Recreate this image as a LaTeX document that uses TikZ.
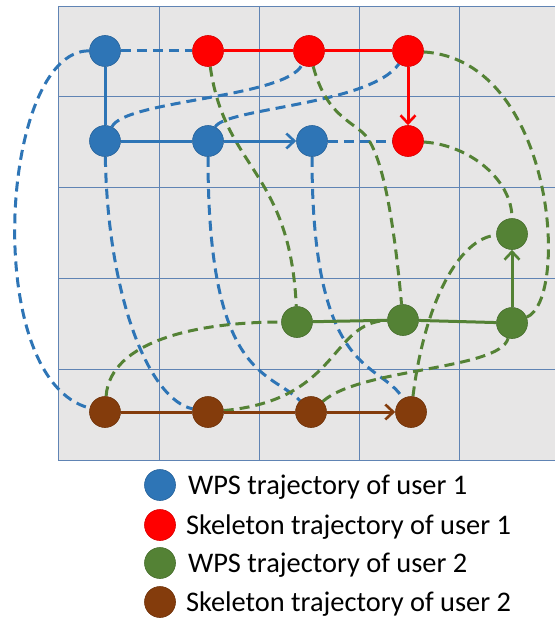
\documentclass[tikz,border=0pt]{standalone}
\usepackage{fontspec}
\setmainfont{Carlito}
\usetikzlibrary{arrows.meta}
\definecolor{wpsone}{RGB}{46,117,182}
\definecolor{skelone}{RGB}{255,0,0}
\definecolor{wpstwo}{RGB}{84,130,53}
\definecolor{skeltwo}{RGB}{132,60,12}
\definecolor{cellgray}{RGB}{231,230,230}
\definecolor{gridblue}{RGB}{96,132,180}
\pgfdeclarelayer{gridlayer}
\pgfdeclarelayer{links}
\pgfsetlayers{gridlayer,links,main}

\tikzset{
	spot/.style={circle, minimum size=31pt, inner sep=0pt, fill=#1, draw=#1!85!black, line width=0.6pt},
	walk/.style={line width=3pt, color=#1},
	arrowed/.style={-{Straight Barb[length=8pt,width=15pt,line width=2.6pt]}},
	pairing/.style={line width=3pt, color=#1, dash pattern=on 10pt off 6pt},
	gridline/.style={line width=0.9pt, color=gridblue},
	legend/.style={anchor=base west, inner sep=0pt, font=\fontsize{28.4pt}{34pt}\selectfont}
}

\begin{document}
\begin{tikzpicture}[x=1pt, y=-1pt]
	\useasboundingbox (0,0) rectangle (555,618);

	\begin{pgfonlayer}{gridlayer}
		\fill[cellgray] (58,6) rectangle (555,460);
		\foreach \x in {58,159,259,359,459}
			\draw[gridline] (\x,6) -- (\x,460);
		\foreach \y in {6,96,187,278,369,460}
			\draw[gridline] (58,\y) -- (555,\y);
	\end{pgfonlayer}

	% WPS trajectory of user 1
	\node[spot=wpsone] (b1) at (105,51) {};
	\node[spot=wpsone] (b2) at (105,141) {};
	\node[spot=wpsone] (b3) at (208,141) {};
	\node[spot=wpsone] (b4) at (312,141) {};
	% skeleton trajectory of user 1
	\node[spot=skelone] (r1) at (208,51) {};
	\node[spot=skelone] (r2) at (309,51) {};
	\node[spot=skelone] (r3) at (408,51) {};
	\node[spot=skelone] (r4) at (408,141) {};
	% WPS trajectory of user 2
	\node[spot=wpstwo] (g1) at (297,322) {};
	\node[spot=wpstwo] (g2) at (403,320) {};
	\node[spot=wpstwo] (g3) at (512,323) {};
	\node[spot=wpstwo] (g4) at (512,234) {};
	% skeleton trajectory of user 2
	\node[spot=skeltwo] (k1) at (105,412) {};
	\node[spot=skeltwo] (k2) at (208,412) {};
	\node[spot=skeltwo] (k3) at (311,412) {};
	\node[spot=skeltwo] (k4) at (411,412) {};

	\begin{pgfonlayer}{links}
		\draw[pairing=wpsone] (b1) -- (r1);
		\draw[pairing=wpsone] (b1) .. controls (0,50) and (-20,380) .. (k1);
		\draw[pairing=wpsone] (b2) .. controls (125,100) and (285,98) .. (r2);
		\draw[pairing=wpsone] (b3) .. controls (225,108) and (370,105) .. (r3);
		\draw[pairing=wpsone] (b4) -- (r4);
		\draw[pairing=wpsone] (b2) .. controls (108,300) and (150,400) .. (k2);
		\draw[pairing=wpsone] (b3) .. controls (208,380) and (270,370) .. (k3);
		\draw[pairing=wpsone] (b4) .. controls (312,380) and (380,360) .. (k4);

		\draw[pairing=wpstwo] (r1) .. controls (225,170) and (290,170) .. (g1);
		\draw[pairing=wpstwo] (r2) .. controls (325,110) and (345,118) .. (362,132)
			.. controls (379,146) and (392,200) .. (g2);
		\draw[pairing=wpstwo] (r3) .. controls (555,60) and (570,300) .. (g3);
		\draw[pairing=wpstwo] (r4) .. controls (470,145) and (512,180) .. (g4);
		\draw[pairing=wpstwo] (k1) .. controls (110,340) and (200,322) .. (g1);
		\draw[pairing=wpstwo] (k2) .. controls (340,400) and (330,322) .. (g2);
		\draw[pairing=wpstwo] (k3) .. controls (360,368) and (500,370) .. (g3);
		\draw[pairing=wpstwo] (k4) .. controls (425,300) and (460,238) .. (g4);
	\end{pgfonlayer}

	\draw[walk=wpsone] (b1) -- (b2) -- (b3);
	\draw[walk=wpsone, arrowed] (b3) -- (b4);
	\draw[walk=skelone] (r1) -- (r2) -- (r3);
	\draw[walk=skelone, arrowed] (r3) -- (r4);
	\draw[walk=wpstwo] (g1) -- (g2) -- (g3);
	\draw[walk=wpstwo, arrowed] (g3) -- (g4);
	\draw[walk=skeltwo] (k1) -- (k2) -- (k3);
	\draw[walk=skeltwo, arrowed] (k3) -- (k4);

	% legend
	\node[spot=wpsone] (l1) at (160,485) {};
	\node[spot=skelone] (l2) at (160,525) {};
	\node[spot=wpstwo] (l3) at (160,563) {};
	\node[spot=skeltwo] (l4) at (160,602) {};
	\node[legend] (t1) at ([xshift=12pt, yshift=-9.5pt]l1.east) {WPS trajectory of user 1};
	\node[legend] (t2) at ([xshift=10pt, yshift=-9.5pt]l2.east) {Skeleton trajectory of user 1};
	\node[legend] (t3) at ([xshift=12pt, yshift=-9.5pt]l3.east) {WPS trajectory of user 2};
	\node[legend] (t4) at ([xshift=10pt, yshift=-9.5pt]l4.east) {Skeleton trajectory of user 2};
\end{tikzpicture}
\end{document}
